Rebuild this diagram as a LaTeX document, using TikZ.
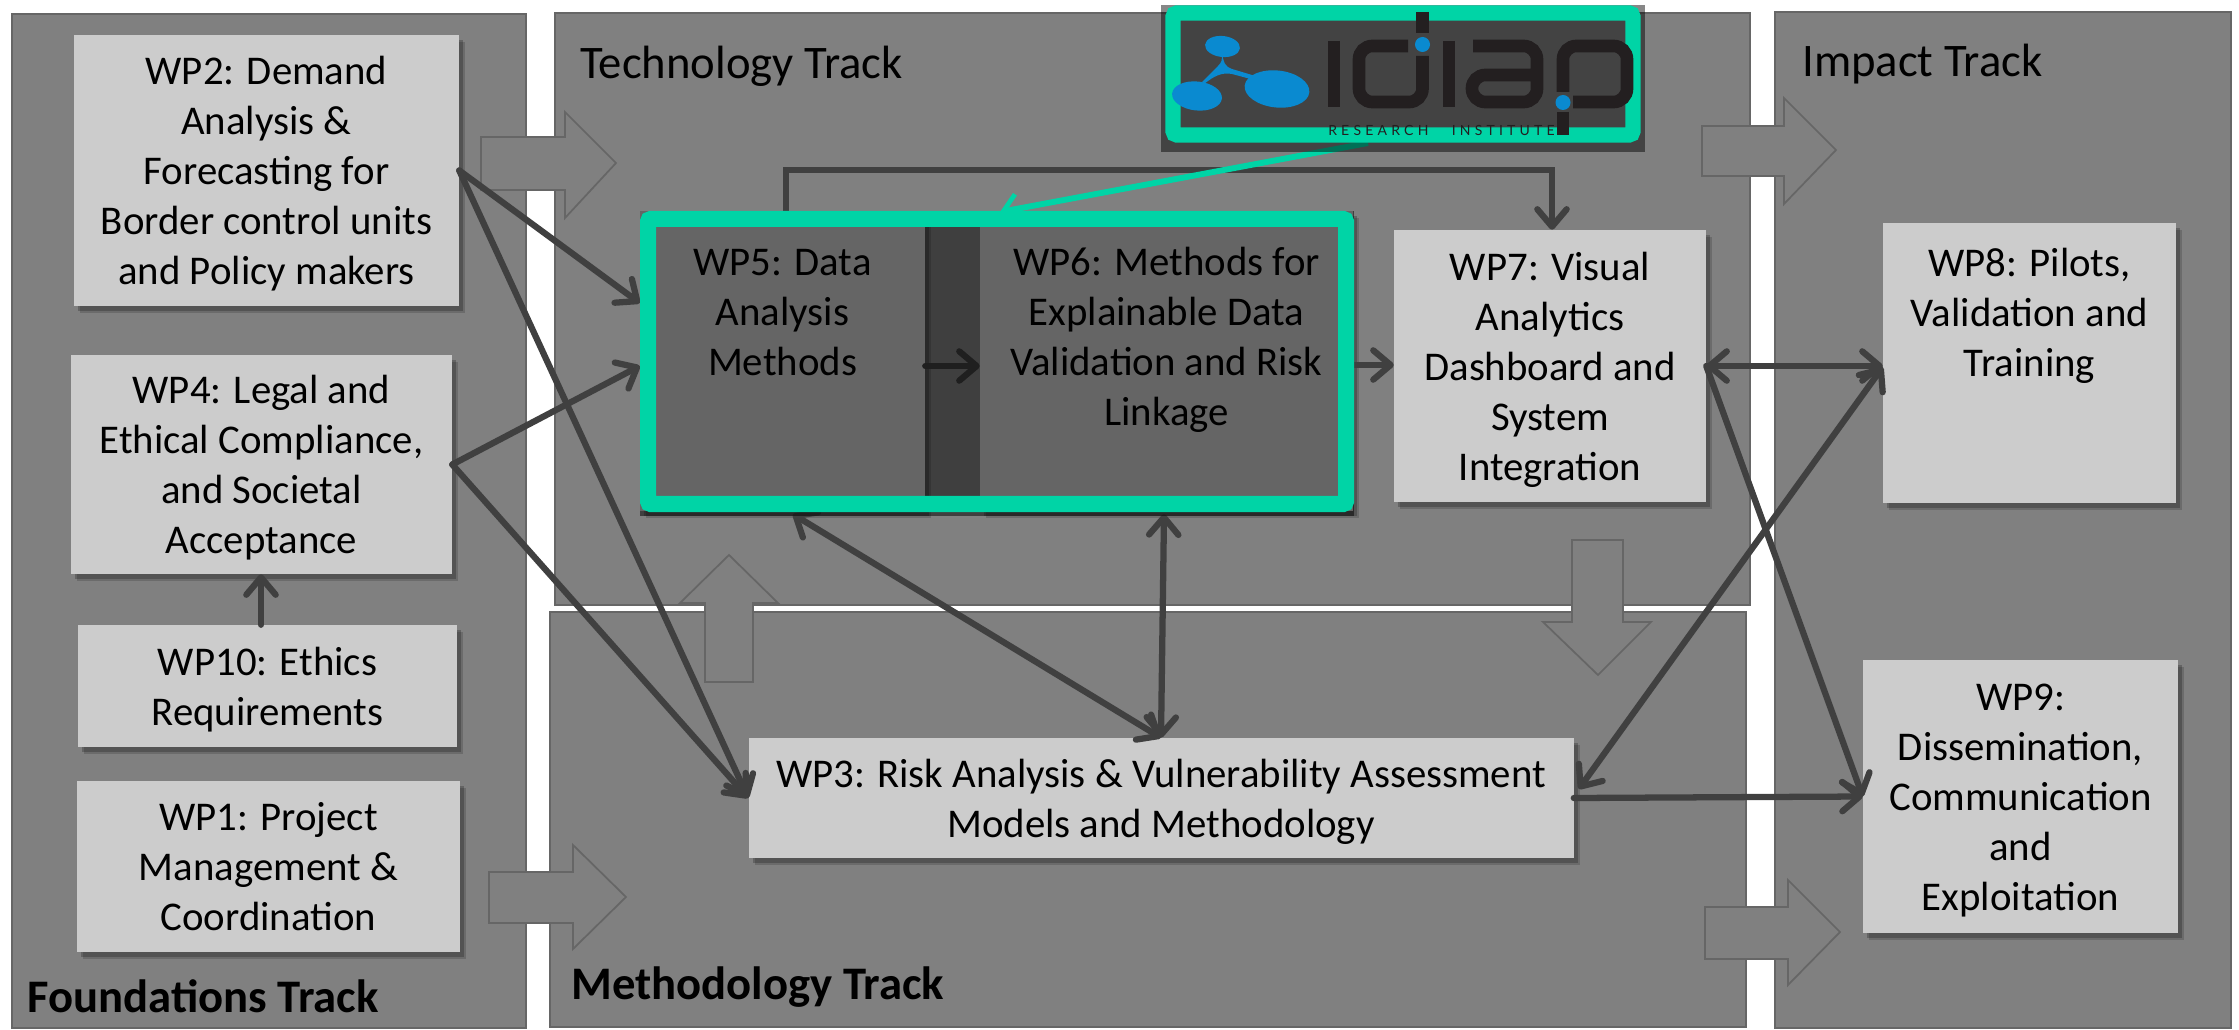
\documentclass[tikz,border=0pt]{standalone}
\usepackage{fontspec}
\setmainfont{Carlito}
\newfontfamily\logofont[LetterSpace=30,WordSpace=3]{Lato}
\usetikzlibrary{arrows.meta,calc,shadows}
\newcommand{\wptop}{\rule{0pt}{31pt}}
\definecolor{panelgrey}{HTML}{808080}
\definecolor{paneledge}{HTML}{666666}
\definecolor{boxgrey}{HTML}{CCCCCC}
\definecolor{linkgrey}{HTML}{404040}
\definecolor{frameteal}{HTML}{00D4A6}
\definecolor{logoblue}{HTML}{0A8AD0}
\definecolor{logoink}{HTML}{231F20}
\tikzset{
  wh/.style 2 args={minimum width=#1*0.75pt,minimum height=#2*0.75pt},
  panel/.style={draw=paneledge,line width=2pt,fill=panelgrey,inner sep=0pt},
  wpbox/.style={fill=boxgrey,align=center,inner sep=0pt,font=\fontsize{30.6}{37.5}\selectfont,
     execute at end node={\rule[-10pt]{0pt}{10pt}},
     drop shadow={shadow xshift=4.5pt,shadow yshift=-5pt,fill=black,opacity=.16},
     drop shadow={shadow xshift=3pt,shadow yshift=-3.5pt,fill=black,opacity=.22}},
  tracklabel/.style={anchor=west,inner sep=0pt,font=\fontsize{35}{40}\selectfont},
  boldlabel/.style={tracklabel,font=\fontsize{35}{40}\selectfont\bfseries},
  blockarrow/.style={draw=paneledge,line width=1.3pt,fill=panelgrey,line join=miter},
  link/.style={draw=linkgrey,line width=4.7pt,-{Straight Barb[round,length=13pt,width=22pt,line width=4.7pt]},line cap=round},
  twolink/.style={draw=linkgrey,line width=4.7pt,{Straight Barb[round,length=13pt,width=22pt,line width=4.7pt]}-{Straight Barb[round,length=13pt,width=22pt,line width=4.7pt]}},
  logostroke/.style={draw=logoink,line width=9.5pt,line cap=butt,rounded corners=10pt},
  logodot/.style={fill=logoblue}
}
\begin{document}
\begin{tikzpicture}[x=0.75pt,y=-0.75pt]
\useasboundingbox (0,0) rectangle (2239,1030);
% panels
\node[panel,wh={514}{1014}] (found) at (269,521) {};
\node[panel,wh={1195}{592}] (tech) at (1152.5,309) {};
\node[panel,wh={1196}{415}] (meth) at (1148,819.5) {};
\node[panel,wh={456}{1016}] (impact) at (2003,520) {};
% block arrows
\draw[blockarrow] (481,137) -- (565,137) -- (565,112) -- (616,163) -- (565,218) -- (565,190) -- (481,190) -- cycle;
\draw[blockarrow] (489,872) -- (573,872) -- (573,845) -- (626,897) -- (573,949) -- (573,923) -- (489,923) -- cycle;
\draw[blockarrow] (1702,126) -- (1784,126) -- (1784,98) -- (1836,150) -- (1784,204) -- (1784,176) -- (1702,176) -- cycle;
\draw[blockarrow] (1705,907) -- (1788,907) -- (1788,880) -- (1840,932) -- (1788,985) -- (1788,959) -- (1705,959) -- cycle;
\draw[blockarrow] (705,682) -- (705,603) -- (680,603) -- (729,555) -- (778,603) -- (753,603) -- (753,682) -- cycle;
\draw[blockarrow] (1572,540) -- (1623,540) -- (1623,622) -- (1651,622) -- (1598,675) -- (1543,622) -- (1572,622) -- cycle;
% track titles
\node[tracklabel] (ttech) at (580,66) {Technology Track};
\node[tracklabel] (timp) at (1802,64) {Impact Track};
\node[boldlabel] (tmeth) at (571,987) {Methodology Track};
\node[boldlabel] (tfound) at (27,996) {Foundations Track};
% work packages
\node[wpbox,wh={385}{271}] (wp2) at (266.5,170.5) {\wptop WP2: Demand\\Analysis \&\\Forecasting for\\Border control units\\and Policy makers};
\node[wpbox,wh={381}{219}] (wp4) at (261.5,464.5) {\wptop WP4: Legal and\\Ethical Compliance,\\and Societal\\Acceptance};
\node[wpbox,wh={379}{122}] (wp10) at (267.5,686) {\wptop WP10: Ethics\\Requirements};
\node[wpbox,wh={383}{171}] (wp1) at (268.5,866.5) {\wptop WP1: Project\\Management \&\\Coordination};
\node[wpbox,wh={825}{120}] (wp3) at (1161,798) {\wptop WP3: Risk Analysis \& Vulnerability Assessment\\Models and Methodology};
\node[wpbox,wh={312}{272}] (wp7) at (1550,366) {\wptop WP7: Visual\\Analytics\\Dashboard and\\System\\Integration};
\node[wpbox,wh={293}{280}] (wp8) at (2029.5,363) {\wptop WP8: Pilots,\\Validation and\\Training\\~\\~};
\node[wpbox,wh={315}{273}] (wp9) at (2020.5,796.5) {\wptop WP9:\\Dissemination,\\Communication\\and\\Exploitation};
\node[wpbox,wh={285}{300}] (wp5) at (782.5,361) {\wptop WP5: Data\\Analysis\\Methods\\~\\~};
\node[wpbox,wh={373}{300}] (wp6) at (1166.5,361) {\wptop WP6: Methods for\\Explainable Data\\Validation and Risk\\Linkage\\~};
% connectors
\draw[link] (wp2.east) -- ($(wp5.west)+(0,-58)$);
\draw[link] (wp2.east) -- (wp3.west);
\draw[link] (wp4.east) -- ($(wp5.west)+(0,5)$);
\draw[link] (wp4.east) -- (wp3.west);
\draw[link] (wp10.north -| 261,0) -- (wp4.south -| 261,0);
\draw[link] (wp5.east |- 0,366) -- (wp6.west |- 0,366);
\draw[link] (wp6.east |- 0,365) -- (wp7.west |- 0,365);
\draw[link] (wp5.north -| 786,0) -- (786,170) -| (wp7.north -| 1552,0);
\draw[twolink] ($(wp5.south -| 793,0)+(0,3)$) -- (wp3.north);
\draw[twolink] ($(wp6.south -| 1164,0)+(0,3)$) -- (wp3.north);
\draw[twolink] (wp7.east) -- (wp8.west |- wp7.east);
\draw[twolink] (wp8.west |- 0,367) -- ($(wp3.east)+(5,-9)$);
\draw[link] (wp7.east) -- (wp9.west);
\draw[link] (wp3.east) -- (wp9.west);
% spotlight and frame
\fill[black,opacity=.5] (640,211) rectangle (1354,516);
\draw[frameteal,line width=12pt,rounded corners=2pt] (648,219) rectangle (1346,504);
\coordinate (frametop) at (1000,212);
\coordinate (logobase) at (1368,143);
\draw[frameteal,line width=4.4pt,-{Straight Barb[length=11pt,width=22pt,line width=3.5pt]}] (logobase) -- (frametop);
% logo backdrop
\fill[black,opacity=.47] (1161,5) rectangle (1645,152);
\draw[frameteal,line width=11.5pt,rounded corners=3pt] (1173,13) rectangle (1633,135);
% logo mark
\fill[logoblue,rotate around={-6:(1222.5,46.5)}] (1222.5,46.5) ellipse [x radius=17.5,y radius=10.5];
\fill[logoblue,rotate around={-6:(1197,96)}] (1197,96) ellipse [x radius=25,y radius=14.5];
\fill[logoblue,rotate around={-6:(1277,89)}] (1277,89) ellipse [x radius=32.5,y radius=18.5];
\fill[logoblue] (1222,54) .. controls (1224,62) and (1224,66) .. (1232,69) -- (1262,78) -- (1258,81) -- (1232,74) .. controls (1222,72) and (1214,76) .. (1204,84) -- (1202,82) -- (1218,66) .. controls (1222,62) and (1222,60) .. (1222,54) -- cycle;
% logo letters
\draw[logoink,line width=9pt] (1334,41) -- (1334,107);
\draw[logostroke] (1408,46) -- (1359,46) -- (1359,102) -- (1422.5,102) -- (1422.5,56);
\draw[logoink,line width=9.5pt] (1422.5,12) -- (1422.5,33);
\draw[logoink,line width=9pt] (1449,41) -- (1449,107);
\draw[logostroke] (1473,46) -- (1537,46) -- (1537,102) -- (1472,102) -- (1472,75) -- (1537,75);
\draw[logostroke] (1563,92) -- (1563,46) -- (1627,46) -- (1627,102) -- (1573,102);
\draw[logoink,line width=9.5pt] (1563,112) -- (1563,135);
\fill[logodot] (1422.5,44.5) circle [x radius=7.5,y radius=7.5];
\fill[logodot] (1563,102.5) circle [x radius=7.5,y radius=7.5];
\node[anchor=west,inner sep=0pt,text=logoink,font=\logofont\fontsize{10.5}{11}\selectfont] (logotext) at (1328,130.5) {RESEARCH INSTITUTE};
\end{tikzpicture}
\end{document}
